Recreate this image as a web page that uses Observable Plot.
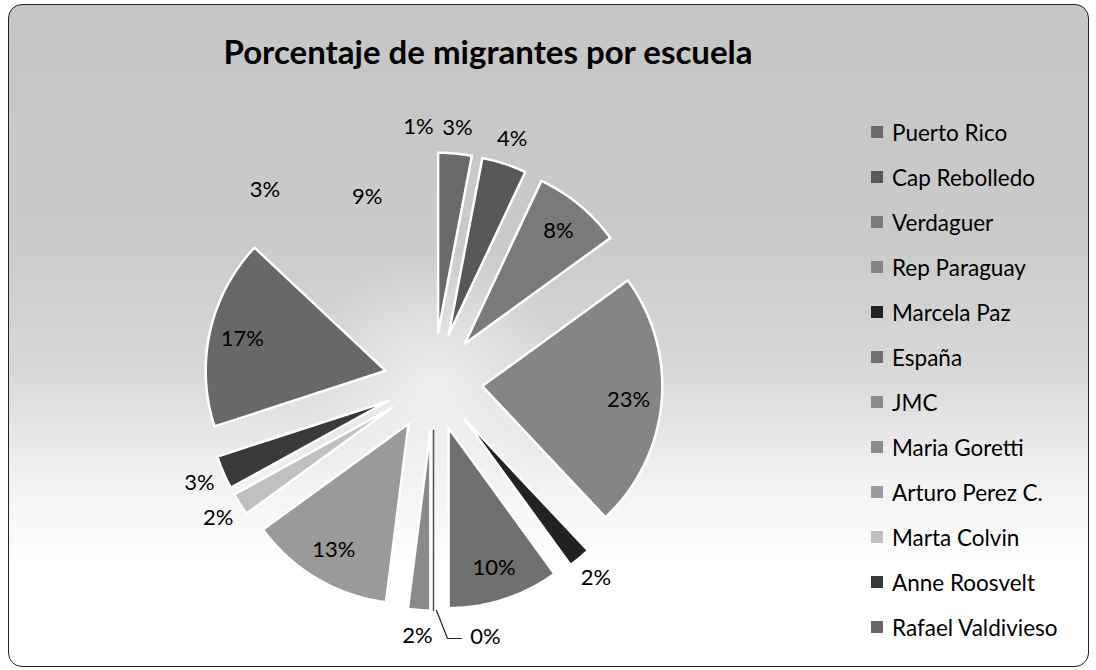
<!DOCTYPE html>
<html>
<head>
<meta charset="utf-8">
<script src="https://cdn.jsdelivr.net/npm/d3@7"></script>
<script src="https://cdn.jsdelivr.net/npm/@observablehq/plot@0.6"></script>
<style>
  html, body { margin: 0; padding: 0; background: #fff; }
  #wrap { position: relative; width: 1096px; height: 670px; overflow: hidden; }
  #frame {
    position: absolute; left: 8px; top: 4px; width: 1079px; height: 661px;
    border: 1.5px solid #222; border-radius: 14px;
    background:
      radial-gradient(circle at 425px 377px, rgba(255,255,255,0.55) 0px, rgba(255,255,255,0.25) 70px, rgba(255,255,255,0) 130px),
      linear-gradient(to bottom, #c6c6c6 0%, #cacaca 35%, #d8d8d8 55%, #f2f2f2 72%, #ffffff 85%);
  }
  #title {
    position: absolute; left: 0; width: 976px; top: 31px; text-align: center;
    font-family: Lato, sans-serif; font-weight: 700; font-size: 33px; color: #000;
  }
  #legend { position: absolute; left: 871px; top: 120px; font-family: Lato, sans-serif; font-size: 22.5px; color: #000; }
  .item { position: absolute; left: 0; height: 24px; display: flex; align-items: center; white-space: nowrap; }
  .sw { width: 12px; height: 12px; margin-right: 9px; }
  #chart { position: absolute; left: 0; top: 0; }
</style>
</head>
<body>
<div id="wrap">
  <div id="frame"></div>
  <div id="chart"></div>
  <div id="title"></div>
  <div id="legend"></div>
</div>
<script>
// ---- data ----
const titleText = "Porcentaje de migrantes por escuela";
const schools = ["Puerto Rico", "Cap Rebolledo", "Verdaguer", "Rep Paraguay", "Marcela Paz", "España", "JMC",
  "Maria Goretti", "Arturo Perez C.", "Marta Colvin", "Anne Roosvelt", "Rafael Valdivieso",
  "Sin nombre 1", "Sin nombre 2", "Sin nombre 3"];
const percents = [3, 4, 8, 23, 2, 10, 0, 2, 13, 2, 3, 17, 3, 9, 1];
const legendCount = 12; // the legend lists only the first 12 schools

// ---- styles ----
const grays = ["#6a6a6a", "#585858", "#7a7a7a", "#858585", "#222222", "#707070", "#8a8a8a",
  "#8a8a8a", "#9a9a9a", "#c0c0c0", "#3a3a3a", "#686868", "none", "none", "none"];

// ---- layout (pixels) ----
const W = 1096, H = 670;
const cx = 433, cy = 381;   // pie centre
const R = 180;              // radius in px = 1 data unit
const explode = 49 / R;     // every slice pulled out
const inR = 196 / R, outR = 255 / R;

// ---- geometry from data ----
const total = d3.sum(percents);
let acc = 0;
const slices = schools.map((name, i) => {
  const a0 = acc / total * 2 * Math.PI;
  acc += percents[i];
  const a1 = acc / total * 2 * Math.PI;
  const am = (a0 + a1) / 2;
  return {name, value: percents[i], a0, a1, am, i, listed: i < legendCount};
});

const wedgePts = [];
const zeroLines = [];
for (const s of slices) {
  const ox = explode * Math.sin(s.am), oy = explode * Math.cos(s.am);
  if (s.value === 0) {
    zeroLines.push({name: s.name, x: ox, y: oy});
    zeroLines.push({name: s.name, x: ox + Math.sin(s.am), y: oy + Math.cos(s.am)});
    continue;
  }
  if (!s.listed) continue;
  wedgePts.push({name: s.name, x: ox, y: oy});
  const n = Math.max(2, Math.ceil((s.a1 - s.a0) / (Math.PI / 180)));
  for (let k = 0; k <= n; k++) {
    const a = s.a0 + (s.a1 - s.a0) * k / n;
    wedgePts.push({name: s.name, x: ox + Math.sin(a), y: oy + Math.cos(a)});
  }
  wedgePts.push({name: s.name, x: ox, y: oy});
}

const labels = slices.map(s => {
  const inside = s.value >= 8;
  const rr = inside ? inR : outR;
  let x = rr * Math.sin(s.am), y = rr * Math.cos(s.am);
  if (s.value === 0) x += 52 / R;          // zero slice label pushed aside with a leader
  if (!inside && s.value > 0 && s.am > 6.2) x -= 7 / R; // tiny last slice label nudged off its neighbour
  return {text: s.value + "%", x, y, zero: s.value === 0, am: s.am};
});

// leader for zero-valued slice
const leaders = [];
labels.filter(l => l.zero).forEach((l, j) => {
  const ex = (explode + 1) * Math.sin(l.am), ey = (explode + 1) * Math.cos(l.am);
  leaders.push({g: j, x: ex + 3 / R, y: ey});
  leaders.push({g: j, x: l.x - 38 / R, y: l.y - 2 / R});
  leaders.push({g: j, x: l.x - 24 / R, y: l.y - 2 / R});
});

const chart = Plot.plot({
  width: W, height: H,
  marginLeft: 0, marginRight: 0, marginTop: 0, marginBottom: 0,
  style: {background: "transparent", overflow: "visible"},
  x: {domain: [-cx / R, (W - cx) / R], axis: null},
  y: {domain: [-(H - cy) / R, cy / R], axis: null},
  color: {domain: schools, range: grays},
  marks: [
    Plot.line(wedgePts, {x: "x", y: "y", z: "name", fill: "name", stroke: "white", strokeWidth: 2.5, strokeLinejoin: "round", curve: "linear"}),
    Plot.line(zeroLines, {x: "x", y: "y", z: "name", stroke: "#555", strokeWidth: 1.5}),
    Plot.line(leaders, {x: "x", y: "y", z: "g", stroke: "#222", strokeWidth: 1.2}),
    Plot.text(labels, {x: "x", y: "y", text: "text", fontSize: 22, fontFamily: "Lato, sans-serif", fill: "#000"})
  ]
});
document.getElementById("chart").appendChild(chart);
document.getElementById("title").textContent = titleText;

const legend = document.getElementById("legend");
schools.slice(0, legendCount).forEach((name, i) => {
  const it = document.createElement("div");
  it.className = "item";
  it.style.top = (i * 45) + "px";
  const sw = document.createElement("span");
  sw.className = "sw";
  sw.style.background = grays[i];
  const tx = document.createElement("span");
  tx.textContent = name;
  it.appendChild(sw); it.appendChild(tx);
  legend.appendChild(it);
});
</script>
</body>
</html>
